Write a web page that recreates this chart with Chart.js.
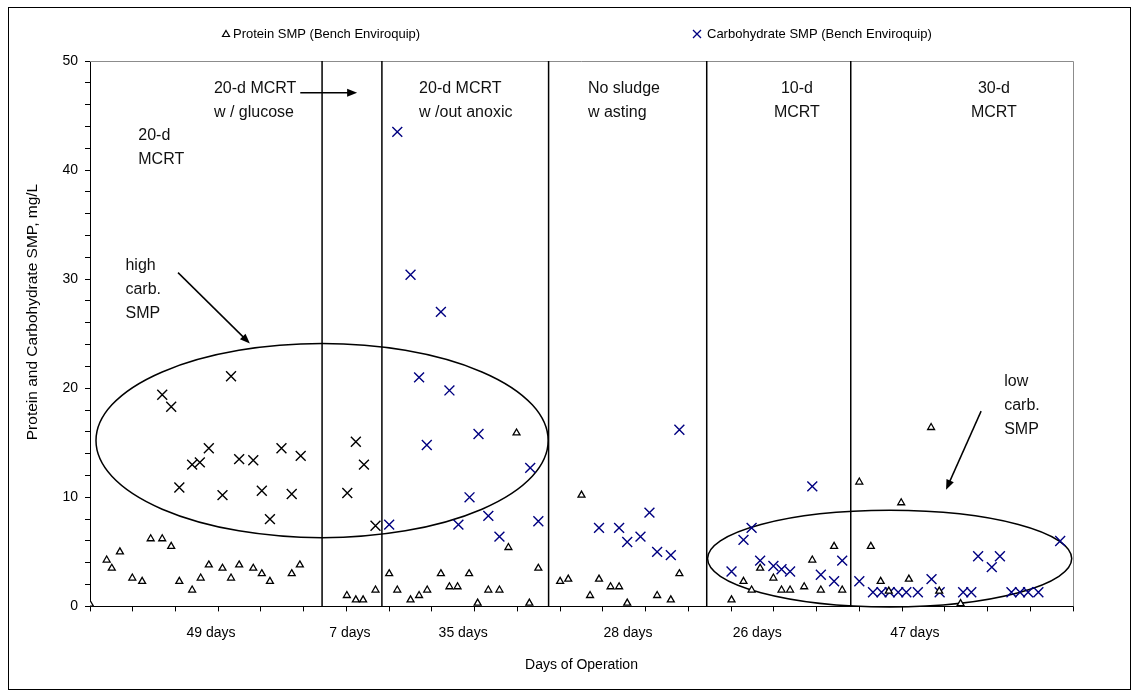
<!DOCTYPE html>
<html>
<head>
<meta charset="utf-8">
<script src="https://cdn.jsdelivr.net/npm/chart.js@4.4.1/dist/chart.umd.min.js"></script>
<style>
    html, body { margin: 0; padding: 0; background: #fff; }
    #wrap { width: 1139px; height: 694px; }
</style>
</head>
<body>
<div id="wrap"><canvas id="smpChart" width="1139" height="694"></canvas></div>
<script>
// Protein SMP (triangles): day of operation / mg/L
const proteinDays = [0, 3.9, 5.1, 7.0, 9.9, 12.2, 14.2, 16.9, 19.0, 20.9, 23.9, 25.9, 27.8, 31.0, 33.0, 34.9, 38.2, 40.2, 42.1, 47.2,
    49.1, 60.1, 62.2, 63.9, 66.8, 70.0, 71.9, 75.0, 77.0, 78.9, 82.1, 84.1, 86.0, 88.7, 90.7, 93.2, 95.8, 97.9, 99.8, 102.8,
    104.9, 110.0, 111.9, 115.0, 117.0, 119.1, 121.8, 123.8, 125.7, 132.7, 135.9, 137.9, 150.1, 152.9, 154.8, 156.8, 159.9, 161.8, 163.8, 167.1,
    169.0, 171.0, 174.1, 176.0, 180.0, 182.7, 185.0, 186.9, 189.8, 191.6, 196.8, 198.7, 203.7];
const proteinValues = [0.2, 4.25, 3.5, 5.0, 2.6, 2.3, 6.2, 6.2, 5.5, 2.3, 1.5, 2.6, 3.8, 3.5, 2.6, 3.8, 3.5, 3.0, 2.3, 3.0,
    3.8, 1.0, 0.6, 0.6, 1.5, 3.0, 1.5, 0.6, 1.0, 1.5, 3.0, 1.8, 1.8, 3.0, 0.3, 1.5, 1.5, 5.4, 15.9, 0.3,
    3.5, 2.3, 2.5, 10.2, 1.0, 2.5, 1.8, 1.8, 0.3, 1.0, 0.6, 3.0, 0.6, 2.3, 1.5, 3.5, 2.6, 1.5, 1.5, 1.8,
    4.25, 1.5, 5.5, 1.5, 11.4, 5.5, 2.3, 1.4, 9.5, 2.5, 16.4, 1.4, 0.25];

// Carbohydrate SMP, first 20-d MCRT and glucose periods (black crosses)
const carbEarlyDays = [16.9, 19.0, 20.9, 23.9, 25.7, 27.8, 31.0, 33.0, 34.9, 38.2, 40.2, 42.1, 44.8, 47.2, 49.3, 60.2, 62.2, 64.1, 66.8];
const carbEarlyValues = [19.4, 18.3, 10.9, 13.0, 13.2, 14.5, 10.2, 21.1, 13.5, 13.4, 10.6, 8.0, 14.5, 10.3, 13.8, 10.4, 15.1, 13.0, 7.4];

// Carbohydrate SMP (Bench Enviroquip), blue crosses
const carbDays = [70.0, 71.9, 75.0, 77.0, 78.8, 82.1, 84.1, 86.2, 88.8, 90.9, 93.2, 95.8, 103.0, 104.9, 119.1, 123.8, 125.7, 128.8, 130.9, 132.7,
    135.9, 137.9, 150.1, 152.9, 154.8, 156.8, 159.9, 161.8, 163.8, 169.0, 171.0, 174.1, 176.0, 180.0, 183.2, 185.2, 187.1, 189.1, 191.0, 193.7,
    196.9, 198.8, 204.3, 206.2, 207.8, 211.0, 212.9, 215.6, 217.6, 219.5, 221.9, 227.0];
const carbValues = [7.5, 43.5, 30.4, 21.0, 14.8, 27.0, 19.8, 7.5, 10.0, 15.8, 8.3, 6.4, 12.7, 7.8, 7.2, 7.2, 5.9, 6.4, 8.6, 5.0,
    4.7, 16.2, 3.2, 6.1, 7.2, 4.2, 3.7, 3.4, 3.2, 11.0, 2.9, 2.3, 4.2, 2.3, 1.3, 1.3, 1.3, 1.3, 1.3, 1.3,
    2.5, 1.3, 1.3, 1.3, 4.6, 3.6, 4.6, 1.3, 1.3, 1.3, 1.3, 6.0];

// Operating periods
const periodBoundaries = [54.3, 68.3, 107.3, 144.3, 178.0];
const periodLabels = ['49 days', '7 days', '35 days', '28 days', '26 days', '47 days'];
const periodLabelDays = [28.3, 60.8, 87.3, 125.9, 156.1, 193.0];

// Axis ticks
const yTickLabels = [0, 10, 20, 30, 40, 50];
const X_MAX = 230;

const FONT = "'Liberation Sans', Arial, sans-serif";
const NAVY = '#000080';
const Y_TITLE = 'Protein and Carbohydrate SMP, mg/L';

Chart.defaults.font.family = FONT;
Chart.defaults.color = '#000';

function toPoints(xs, ys) {
    return xs.map((x, i) => ({ x: x, y: ys[i] }));
}

// Annotations (data coordinates)
const ellipses = [
    { cx: 54.3, cy: 15.2, rx: 52.9, ry: 8.9 },
    { cx: 187.1, cy: 4.38, rx: 42.6, ry: 4.43 }
];
const arrows = [
    { x1: 49.2, y1: 47.1, x2: 62.5, y2: 47.1 },
    { x1: 20.6, y1: 30.6, x2: 37.4, y2: 24.1 },
    { x1: 208.5, y1: 17.9, x2: 200.3, y2: 10.7 }
];
const notes = [
    { x: 29.0, y: 47.5, lines: ['20-d MCRT', 'w / glucose'], align: 'left' },
    { x: 11.3, y: 43.2, lines: ['20-d', 'MCRT'], align: 'left' },
    { x: 8.3, y: 31.2, lines: ['high', 'carb.', 'SMP'], align: 'left' },
    { x: 77.0, y: 47.5, lines: ['20-d MCRT', 'w /out anoxic'], align: 'left' },
    { x: 116.5, y: 47.5, lines: ['No sludge', 'w asting'], align: 'left' },
    { x: 165.4, y: 47.5, lines: ['10-d', 'MCRT'], align: 'center' },
    { x: 211.5, y: 47.5, lines: ['30-d', 'MCRT'], align: 'center' },
    { x: 213.9, y: 20.6, lines: ['low', 'carb.', 'SMP'], align: 'left' }
];

function drawArrow(ctx, x1, y1, x2, y2) {
    const ang = Math.atan2(y2 - y1, x2 - x1);
    const len = 10, half = 4;
    ctx.beginPath();
    ctx.moveTo(x1, y1);
    ctx.lineTo(x2 - Math.cos(ang) * len * 0.8, y2 - Math.sin(ang) * len * 0.8);
    ctx.stroke();
    ctx.beginPath();
    ctx.moveTo(x2, y2);
    ctx.lineTo(x2 - Math.cos(ang) * len - Math.sin(ang) * half, y2 - Math.sin(ang) * len + Math.cos(ang) * half);
    ctx.lineTo(x2 - Math.cos(ang) * len + Math.sin(ang) * half, y2 - Math.sin(ang) * len - Math.cos(ang) * half);
    ctx.closePath();
    ctx.fill();
}

const framePlugin = {
    id: 'frame',
    beforeDraw(chart) {
        const ctx = chart.ctx;
        ctx.save();
        ctx.fillStyle = '#fff';
        ctx.fillRect(0, 0, chart.width, chart.height);
        ctx.strokeStyle = '#000';
        ctx.lineWidth = 1;
        ctx.strokeRect(8.5, 7.5, 1122, 682);
        ctx.restore();
    },
    beforeDatasetsDraw(chart) {
        const ctx = chart.ctx;
        const area = chart.chartArea;
        const xs = chart.scales.x, ys = chart.scales.y;
        ctx.save();
        // plot border (top and right)
        ctx.strokeStyle = '#8c8c8c';
        ctx.lineWidth = 1;
        ctx.beginPath();
        ctx.moveTo(area.left, area.top + 0.5);
        ctx.lineTo(area.right + 0.5, area.top + 0.5);
        ctx.lineTo(area.right + 0.5, area.bottom);
        ctx.stroke();
        // period separators
        ctx.strokeStyle = '#000';
        ctx.lineWidth = 1.5;
        periodBoundaries.forEach(d => {
            const px = xs.getPixelForValue(d);
            ctx.beginPath();
            ctx.moveTo(px, area.top);
            ctx.lineTo(px, area.bottom);
            ctx.stroke();
        });
        // ellipses
        ellipses.forEach(e => {
            const cx = xs.getPixelForValue(e.cx), cy = ys.getPixelForValue(e.cy);
            const rx = xs.getPixelForValue(e.cx + e.rx) - cx;
            const ry = cy - ys.getPixelForValue(e.cy + e.ry);
            ctx.beginPath();
            ctx.ellipse(cx, cy, rx, ry, 0, 0, Math.PI * 2);
            ctx.stroke();
        });
        ctx.restore();
    },
    afterDraw(chart) {
        const ctx = chart.ctx;
        const xs = chart.scales.x, ys = chart.scales.y;
        ctx.save();
        ctx.strokeStyle = '#000';
        ctx.fillStyle = '#000';
        ctx.lineWidth = 1.5;
        arrows.forEach(a => drawArrow(ctx,
            xs.getPixelForValue(a.x1), ys.getPixelForValue(a.y1),
            xs.getPixelForValue(a.x2), ys.getPixelForValue(a.y2)));

        ctx.font = '16px ' + FONT;
        ctx.textBaseline = 'middle';
        ctx.fillStyle = '#111';
        notes.forEach(n => {
            ctx.textAlign = n.align;
            const px = xs.getPixelForValue(n.x);
            const py = ys.getPixelForValue(n.y);
            n.lines.forEach((t, i) => ctx.fillText(t, px, py + i * 24));
        });

        // y axis title
        ctx.save();
        ctx.translate(33, 312);
        ctx.rotate(-Math.PI / 2);
        ctx.textAlign = 'center';
        ctx.fillStyle = '#000';
        ctx.font = '15.5px ' + FONT;
        ctx.fillText(Y_TITLE, 0, 0);
        ctx.restore();

        // legend
        const ds = chart.data.datasets;
        ctx.font = '13px ' + FONT;
        ctx.textAlign = 'left';
        ctx.lineWidth = 1.2;
        ctx.strokeStyle = '#000';
        ctx.fillStyle = '#fff';
        ctx.beginPath();
        ctx.moveTo(226, 30.5);
        ctx.lineTo(229.5, 36.5);
        ctx.lineTo(222.5, 36.5);
        ctx.closePath();
        ctx.fill();
        ctx.stroke();
        ctx.fillStyle = '#000';
        ctx.fillText(ds[0].label, 233, 34);
        ctx.strokeStyle = NAVY;
        ctx.lineWidth = 1.3;
        ctx.beginPath();
        ctx.moveTo(693, 30); ctx.lineTo(701, 38);
        ctx.moveTo(701, 30); ctx.lineTo(693, 38);
        ctx.stroke();
        ctx.fillText(ds[2].label, 707, 34);
        ctx.restore();
    }
};

const ctx = document.getElementById('smpChart').getContext('2d');

new Chart(ctx, {
    type: 'scatter',
    data: {
        datasets: [
            {
                label: 'Protein SMP (Bench Enviroquip)',
                data: toPoints(proteinDays, proteinValues),
                pointStyle: 'triangle',
                radius: 4,
                borderColor: '#000',
                backgroundColor: '#fff',
                borderWidth: 1.3
            },
            {
                label: 'Carbohydrate SMP',
                data: toPoints(carbEarlyDays, carbEarlyValues),
                pointStyle: 'crossRot',
                radius: 7,
                borderColor: '#000',
                backgroundColor: '#000',
                borderWidth: 1.4
            },
            {
                label: 'Carbohydrate SMP (Bench Enviroquip)',
                data: toPoints(carbDays, carbValues),
                pointStyle: 'crossRot',
                radius: 7,
                borderColor: NAVY,
                backgroundColor: NAVY,
                borderWidth: 1.4
            }
        ]
    },
    options: {
        responsive: false,
        animation: false,
        layout: { padding: { left: 10, right: 66, top: 61, bottom: 14 } },
        plugins: {
            legend: { display: false },
            tooltip: { enabled: false }
        },
        scales: {
            x: {
                type: 'linear',
                position: 'bottom',
                weight: 0,
                min: 0,
                max: X_MAX,
                afterBuildTicks: axis => {
                    const t = [];
                    for (let v = 0; v <= X_MAX; v += 10) t.push({ value: v });
                    axis.ticks = t;
                },
                ticks: { display: false, autoSkip: false },
                grid: { drawOnChartArea: false, drawTicks: true, tickLength: 5, color: '#000', lineWidth: 1 },
                border: { color: '#000', width: 1 }
            },
            xPeriods: {
                type: 'linear',
                position: 'bottom',
                weight: 1,
                min: 0,
                max: X_MAX,
                afterBuildTicks: axis => {
                    axis.ticks = periodLabelDays.map(v => ({ value: v }));
                },
                ticks: {
                    autoSkip: false,
                    maxRotation: 0,
                    padding: 13,
                    color: '#000',
                    font: { size: 14 },
                    callback: (v, i) => periodLabels[i]
                },
                grid: { display: false, drawTicks: false },
                border: { display: false },
                title: {
                    display: true,
                    text: 'Days of Operation',
                    color: '#000',
                    font: { size: 14 },
                    padding: { top: 3, bottom: 6 }
                }
            },
            y: {
                min: 0,
                max: 50,
                afterBuildTicks: axis => {
                    const t = [];
                    for (let v = 0; v <= 50; v += 2) t.push({ value: v });
                    axis.ticks = t;
                },
                afterFit: axis => { axis.width = 80; },
                ticks: {
                    autoSkip: false,
                    padding: 7,
                    color: '#000',
                    font: { size: 14 },
                    callback: v => yTickLabels.includes(v) ? String(v) : ''
                },
                grid: { drawOnChartArea: false, drawTicks: true, tickLength: 5, color: '#000', lineWidth: 1 },
                border: { color: '#000', width: 1 }
            }
        }
    },
    plugins: [framePlugin]
});
</script>
</body>
</html>
